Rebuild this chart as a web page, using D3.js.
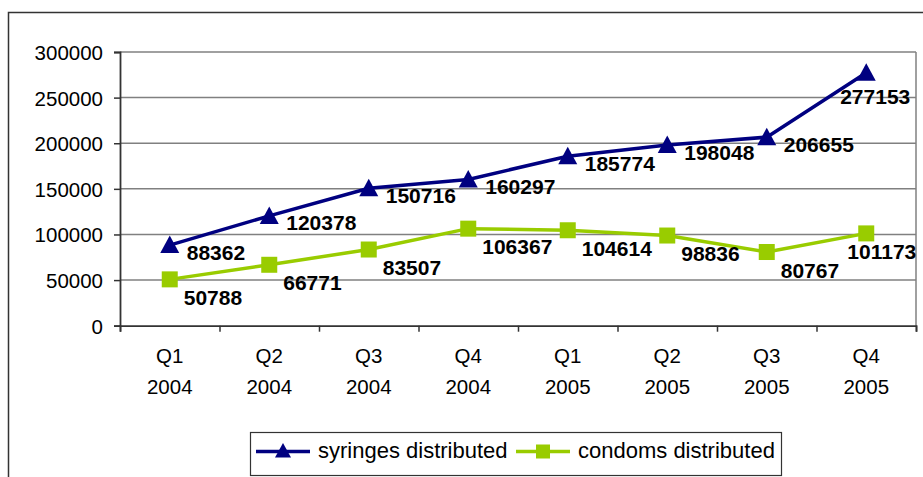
<!DOCTYPE html>
<html><head><meta charset="utf-8">
<script src="https://cdn.jsdelivr.net/npm/d3@7"></script>
<style>
html,body{margin:0;padding:0;background:#fff;}
svg{display:block;font-family:"Liberation Sans",Arial,sans-serif;}
</style></head>
<body>
<script>
const quarters = ["Q1","Q2","Q3","Q4","Q1","Q2","Q3","Q4"];
const years = ["2004","2004","2004","2004","2005","2005","2005","2005"];
const syringes = [88362,120378,150716,160297,185774,198048,206655,277153];
const condoms = [50788,66771,83507,106367,104614,98836,80767,101173];
const yTicks = [0,50000,100000,150000,200000,250000,300000];
const seriesNames = ["syringes distributed","condoms distributed"];

const W=923,H=477;
const svg=d3.select("body").append("svg").attr("width",W).attr("height",H);

// outer chart border
svg.append("rect").attr("x",8.5).attr("y",12.5).attr("width",W+20).attr("height",H+20)
  .attr("fill","none").attr("stroke","#333").attr("stroke-width",1.5);

const L=120,R=916,T=52,B=325.7;
const idx=d3.range(quarters.length);
const x=d3.scaleBand().domain(idx).range([L,R]).padding(0);
const cx=i=>x(i)+x.bandwidth()/2;
const y=d3.scaleLinear().domain([0,300000]).range([B,T]);

// gridlines
svg.append("g").selectAll("line").data(yTicks.filter(d=>d>0)).join("line")
  .attr("x1",L).attr("x2",R).attr("y1",d=>y(d)).attr("y2",d=>y(d))
  .attr("stroke","#808080").attr("stroke-width",1.5);
// right border of plot
svg.append("line").attr("x1",R).attr("x2",R).attr("y1",T).attr("y2",B)
  .attr("stroke","#808080").attr("stroke-width",1.5);

// y axis
const yAxis=d3.axisLeft(y).tickValues(yTicks).tickSize(6).tickPadding(11).tickFormat(d3.format("d"));
const gy=svg.append("g").attr("transform",`translate(${L},0)`).call(yAxis);
gy.select(".domain").attr("stroke","#333").attr("stroke-width",1.8);
gy.selectAll(".tick line").attr("stroke","#333").attr("stroke-width",1.5);
gy.selectAll(".tick text").attr("font-size","20.5px").attr("fill","#000")
  .attr("font-family","Liberation Sans, Arial, sans-serif").attr("dy","0.36em");

// x axis
const xb=d3.scaleLinear().domain([0,quarters.length]).range([L,R]);
const xAxis=d3.axisBottom(xb).tickValues(d3.range(quarters.length+1)).tickSize(6).tickFormat("");
const gx=svg.append("g").attr("transform",`translate(0,${B})`).call(xAxis);
gx.select(".domain").attr("stroke","#333").attr("stroke-width",1.8);
gx.selectAll(".tick line").attr("stroke","#333").attr("stroke-width",1.5);

const cat=svg.append("g").attr("font-size","20.5px").attr("fill","#000").attr("text-anchor","middle");
cat.selectAll("text.q").data(idx).join("text").attr("class","q")
  .attr("x",i=>cx(i)).attr("y",363).text(i=>quarters[i]);
cat.selectAll("text.yr").data(idx).join("text").attr("class","yr")
  .attr("x",i=>cx(i)).attr("y",394).text(i=>years[i]);

const navy="#000080", green="#99CC00";
const line=d3.line().x((d,i)=>cx(i)).y(d=>y(d));

function drawSeries(vals,color,marker,ldx,ldy){
  svg.append("path").datum(vals).attr("d",line).attr("fill","none")
    .attr("stroke",color).attr("stroke-width",3.5).attr("stroke-linejoin","round");
  const g=svg.append("g");
  if(marker==="tri"){
    g.selectAll("path").data(vals).join("path")
      .attr("d","M0,-9.5L9.5,8L-9.5,8Z").attr("fill",color)
      .attr("transform",(d,i)=>`translate(${cx(i)},${y(d)})`);
  } else {
    g.selectAll("rect").data(vals).join("rect")
      .attr("x",(d,i)=>cx(i)-8).attr("y",d=>y(d)-8).attr("width",16).attr("height",16)
      .attr("fill",color);
  }
  const n=vals.length;
  svg.append("g").attr("font-size","21px").attr("font-weight","bold").attr("fill","#000")
    .selectAll("text").data(vals).join("text")
    .attr("text-anchor",(d,i)=>i===n-1?"end":"start")
    .attr("x",(d,i)=>i===n-1?cx(i)+ldx[1]:cx(i)+ldx[0])
    .attr("y",(d,i)=>y(d)+(i===n-1?ldy[1]:ldy[0]))
    .attr("dy","0.36em")
    .text(d=>d);
}
drawSeries(syringes,navy,"tri",[17,44],[7,24]);
drawSeries(condoms,green,"sq",[14,50],[18,18]);

// legend
const lg=svg.append("g");
lg.append("rect").attr("x",250.5).attr("y",432.5).attr("width",531).attr("height",43)
  .attr("fill","#fff").attr("stroke","#333").attr("stroke-width",1.2);
const items=[{name:seriesNames[0],color:navy,m:"tri",x:256,tx:318},
             {name:seriesNames[1],color:green,m:"sq",x:516,tx:578}];
items.forEach(it=>{
  lg.append("line").attr("x1",it.x).attr("x2",it.x+54).attr("y1",451.5).attr("y2",451.5)
    .attr("stroke",it.color).attr("stroke-width",3.5);
  if(it.m==="tri") lg.append("path").attr("d","M0,-8L8,6.5L-8,6.5Z").attr("fill",it.color)
    .attr("transform",`translate(${it.x+27},${451})`);
  else lg.append("rect").attr("x",it.x+20).attr("y",444.5).attr("width",14).attr("height",14).attr("fill",it.color);
  lg.append("text").attr("x",it.tx).attr("y",458).attr("font-size","22px").attr("fill","#000").text(it.name);
});
</script>
</body></html>
